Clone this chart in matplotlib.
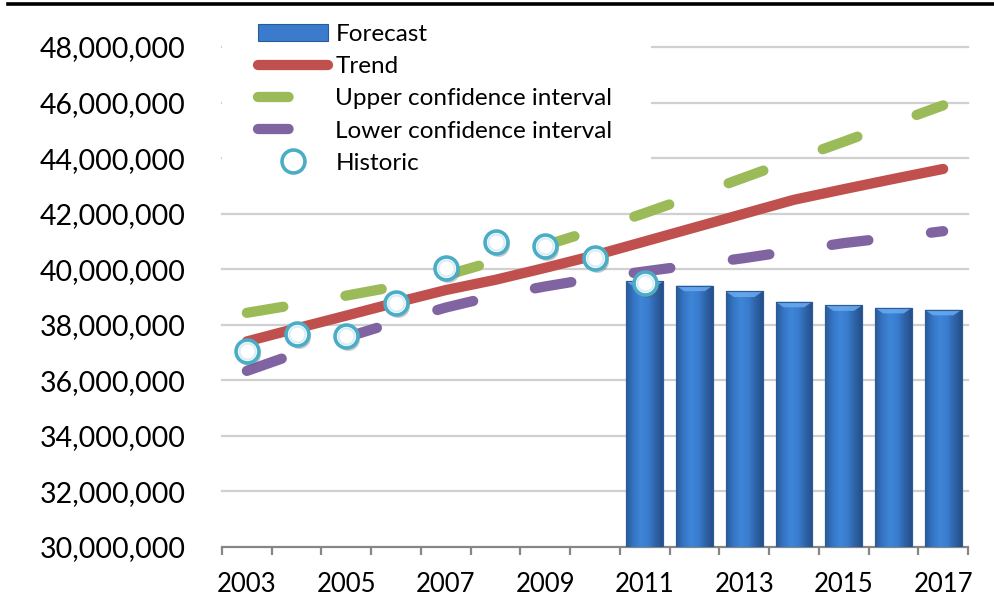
import numpy as np
import matplotlib
matplotlib.use("Agg")
import matplotlib.pyplot as plt
from matplotlib.lines import Line2D
from matplotlib.patches import Rectangle, Polygon
from matplotlib.colors import LinearSegmentedColormap
import matplotlib.transforms as mtransforms
from matplotlib.ticker import FuncFormatter

plt.rcParams['font.family'] = ['Lato', 'DejaVu Sans']
plt.rcParams['lines.scale_dashes'] = False

# ---------------- data ----------------
years = list(range(2003, 2018))
historic_years = list(range(2003, 2012))
historic = [37.06e6, 37.66e6, 37.58e6, 38.80e6, 40.04e6, 40.97e6, 40.85e6, 40.40e6, 39.52e6]
forecast_years = list(range(2011, 2018))
forecast = [39.56e6, 39.41e6, 39.20e6, 38.83e6, 38.70e6, 38.61e6, 38.54e6]
trend = [37.40e6, 37.87e6, 38.33e6, 38.80e6, 39.25e6, 39.62e6, 40.05e6, 40.50e6,
         41.00e6, 41.50e6, 42.00e6, 42.50e6, 42.88e6, 43.25e6, 43.61e6]
upper = [38.43e6, 38.73e6, 39.05e6, 39.38e6, 39.78e6, 40.30e6, 40.86e6, 41.42e6,
         42.02e6, 42.65e6, 43.30e6, 43.95e6, 44.59e6, 45.25e6, 45.90e6]
lower = [36.34e6, 36.97e6, 37.55e6, 38.10e6, 38.62e6, 39.05e6, 39.38e6, 39.68e6,
         39.92e6, 40.16e6, 40.40e6, 40.67e6, 40.94e6, 41.15e6, 41.37e6]
y_ticks = list(range(30_000_000, 48_000_001, 2_000_000))
x_label_years = [2003, 2005, 2007, 2009, 2011, 2013, 2015, 2017]
labels = ["Forecast", "Trend", "Upper confidence interval",
          "Lower confidence interval", "Historic"]

# ---------------- style ----------------
RED = '#C0504D'
GREEN = '#9BBB59'
PURPLE = '#8064A2'
TEAL = '#4BACC6'
BLUE = '#3A7BCB'
BLUE_EDGE = '#2B5C9A'
LW = 7.4
DASH = (26.6, 45.4)

W, H = 995, 611
fig = plt.figure(figsize=(W / 100, H / 100), dpi=100)
ax = fig.add_axes([222 / W, 64 / H, 746 / W, 500 / H])

pos = {y: i for i, y in enumerate(years)}
x_all = np.array([pos[y] for y in years])
x_hist = np.array([pos[y] for y in historic_years])
x_fc = np.array([pos[y] for y in forecast_years])

ax.set_xlim(-0.5, len(years) - 0.5)
ax.set_ylim(y_ticks[0], y_ticks[-1])

# gridlines
for v in y_ticks[1:]:
    ax.axhline(v, color='#D0D0D0', lw=1.6, zorder=0, clip_on=False)

# white area behind legend
cover = Rectangle((222 / W, (H - 185) / H), (651 - 222) / W, 150 / H,
                  transform=fig.transFigure, facecolor='white', edgecolor='none',
                  zorder=0.5, clip_on=False)
ax.add_patch(cover)

# bars with horizontal gradient
bars = ax.bar(x_fc, forecast, width=0.74, color=BLUE, edgecolor=BLUE_EDGE,
              linewidth=0.8, zorder=2)
cmap = LinearSegmentedColormap.from_list(
    'barg', ['#2A5A98', '#3575C4', '#3E85D8', '#3A7DCF', '#2E65AA', '#264F88'])
grad = np.linspace(0, 1, 64).reshape(1, -1)
bevel_h = 0.2e6
for b in bars:
    x0 = b.get_x()
    w = b.get_width()
    x1 = x0 + w
    top = b.get_height()
    im = ax.imshow(grad, extent=[x0, x1, y_ticks[0], top], cmap=cmap,
                   aspect='auto', zorder=2.1, interpolation='bicubic')
    im.set_clip_path(b)
    bev = Polygon([[x0, top], [x1, top], [x1 - 0.22 * w, top - bevel_h],
                   [x0 + 0.22 * w, top - bevel_h]], closed=True,
                  facecolor='#6AAAEE', edgecolor='none', alpha=0.85, zorder=2.15)
    ax.add_patch(bev)
    ax.bar(x0 + w / 2, top, width=w, fill=False,
           edgecolor=BLUE_EDGE, linewidth=0.8, zorder=2.2)
ax.set_xlim(-0.5, len(years) - 0.5)
ax.set_ylim(y_ticks[0], y_ticks[-1])

# lines
ax.plot(x_all, upper, color=GREEN, lw=LW, dashes=DASH, dash_capstyle='round',
        zorder=3)
ax.plot(x_all, lower, color=PURPLE, lw=LW, dashes=DASH, dash_capstyle='round',
        zorder=3)
ax.plot(x_all, trend, color=RED, lw=LW, solid_capstyle='round',
        solid_joinstyle='round', zorder=4)

# historic markers with shadow
shadow_tr = mtransforms.offset_copy(ax.transData, fig=fig, x=2, y=-3, units='dots')
ax.plot(x_hist, historic, ls='none', marker='o', ms=16.5, mfc='#555555', mec='none',
        alpha=0.3, transform=shadow_tr, zorder=5)
ax.plot(x_hist, historic, ls='none', marker='o', ms=16.5, mfc='white', mec=TEAL,
        mew=2.6, zorder=6)
ax.plot(x_hist, historic, ls='none', marker='o', ms=11.5, mfc='none', mec='#D8EEF4',
        mew=1.5, zorder=6.1)

# axes styling
for s in ['left', 'right', 'top']:
    ax.spines[s].set_visible(False)
ax.spines['bottom'].set_color('#868686')
ax.spines['bottom'].set_linewidth(1.6)
ax.spines['bottom'].set_zorder(1)

ax.set_yticks(y_ticks)
ax.yaxis.set_major_formatter(FuncFormatter(lambda v, p: f"{int(round(v)):,}"))
ax.tick_params(axis='y', length=0, pad=26, labelsize=20.5, labelcolor='black')

ax.set_xticks([pos[y] for y in x_label_years])
ax.set_xticklabels([str(y) for y in x_label_years])
ax.set_xticks(np.arange(-0.5, len(years), 1.0), minor=True)
ax.tick_params(axis='x', which='major', length=0, pad=18, labelsize=18.5)
ax.tick_params(axis='x', which='minor', length=5.5, width=1.6, color='#868686')

# legend
h_fc = Rectangle((0, 0), 1, 1, facecolor=BLUE, edgecolor=BLUE_EDGE, linewidth=0.8)
h_tr = Line2D([], [], color=RED, lw=LW, solid_capstyle='round')
h_up = Line2D([], [], color=GREEN, lw=LW, dashes=(22, 60), dash_capstyle='round')
h_lo = Line2D([], [], color=PURPLE, lw=LW, dashes=(22, 60), dash_capstyle='round')
h_hi = Line2D([], [], ls='none', marker='o', ms=16.5, mfc='white', mec=TEAL, mew=2.6)
fs = 17.5
leg = ax.legend([h_fc, h_tr, h_up, h_lo, h_hi], labels, loc='upper left',
                bbox_to_anchor=(258 / W, 1 - 24 / H), bbox_transform=fig.transFigure,
                frameon=False, fontsize=fs, handlelength=70 / (fs * 100 / 72),
                handleheight=0.7, handletextpad=0.3, labelspacing=0.46,
                borderpad=0, borderaxespad=0)
leg.set_zorder(10)

# top rule
fig.add_artist(Line2D([8 / W, 1], [1 - 3.5 / H, 1 - 3.5 / H], transform=fig.transFigure,
                      color='black', lw=2.6))

fig.savefig('out.png', dpi=100)
